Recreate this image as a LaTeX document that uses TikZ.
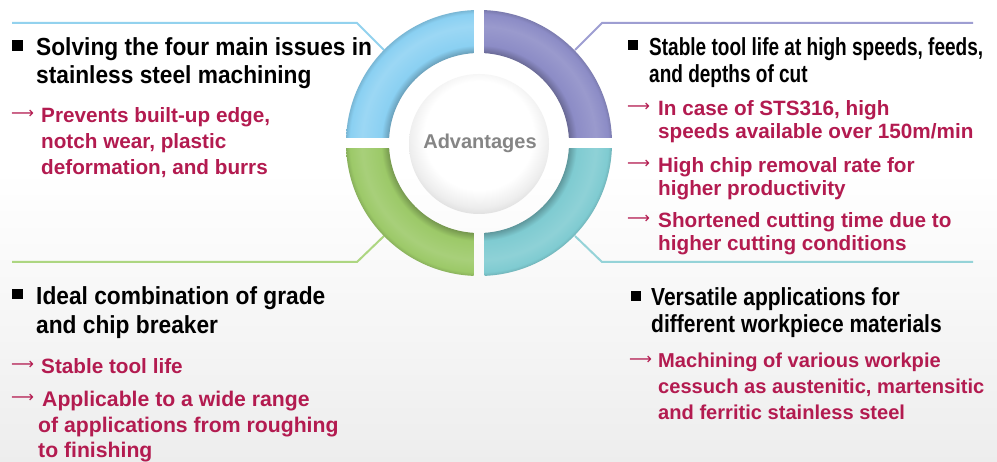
\documentclass[tikz,border=0pt]{standalone}
\usepackage{fontspec}
\setmainfont{Liberation Sans}
\newfontfamily\headfont{Liberation Sans}[FakeStretch=0.92]
\newfontfamily\headfontB{Liberation Sans}[FakeStretch=0.85]
\newfontfamily\headfontC{Liberation Sans}[FakeStretch=0.77]
\newfontfamily\arrowfont{DejaVu Sans}

\definecolor{ringblue}{HTML}{8AD0F2}
\definecolor{ringpurple}{HTML}{8C8CC6}
\definecolor{ringgreen}{HTML}{9CC968}
\definecolor{ringteal}{HTML}{7FCBD1}
\definecolor{lineblue}{HTML}{93D2EE}
\definecolor{linepurple}{HTML}{9E9ED2}
\definecolor{linegreen}{HTML}{ADD681}
\definecolor{lineteal}{HTML}{95D3D8}
\definecolor{pointred}{HTML}{B31B50}
\definecolor{centergray}{HTML}{858585}

% ring quadrants: dark inner rim, light middle, soft outer rim (25bp = outer radius)
\pgfdeclareradialshading{ringA}{\pgfpoint{0bp}{0bp}}{color(0bp)=(ringblue!75!black); color(16.9bp)=(ringblue!75!black); color(18.4bp)=(ringblue); color(22bp)=(ringblue!85!white); color(24.3bp)=(ringblue); color(25bp)=(ringblue!88!black); color(50bp)=(ringblue!88!black)}
\pgfdeclareradialshading{ringB}{\pgfpoint{0bp}{0bp}}{color(0bp)=(ringpurple!75!black); color(16.9bp)=(ringpurple!75!black); color(18.4bp)=(ringpurple); color(22bp)=(ringpurple!88!white); color(24.3bp)=(ringpurple); color(25bp)=(ringpurple!88!black); color(50bp)=(ringpurple!88!black)}
\pgfdeclareradialshading{ringC}{\pgfpoint{0bp}{0bp}}{color(0bp)=(ringgreen!75!black); color(16.9bp)=(ringgreen!75!black); color(18.4bp)=(ringgreen); color(22bp)=(ringgreen!88!white); color(24.3bp)=(ringgreen); color(25bp)=(ringgreen!88!black); color(50bp)=(ringgreen!88!black)}
\pgfdeclareradialshading{ringD}{\pgfpoint{0bp}{0bp}}{color(0bp)=(ringteal!75!black); color(16.9bp)=(ringteal!75!black); color(18.4bp)=(ringteal); color(22bp)=(ringteal!88!white); color(24.3bp)=(ringteal); color(25bp)=(ringteal!88!black); color(50bp)=(ringteal!88!black)}
\pgfdeclareradialshading{discshade}{\pgfpoint{0bp}{4bp}}{color(0bp)=(white); color(17bp)=(white); color(22bp)=(black!7); color(26bp)=(black!17); color(29bp)=(black!28); color(50bp)=(black!28)}

\tikzset{
  headA/.style={anchor=north west, inner sep=0pt, align=left, font=\headfont\bfseries\fontsize{24.7}{28.5}\selectfont},
  headB/.style={anchor=north west, inner sep=0pt, align=left, font=\headfontB\bfseries\fontsize{24.7}{27}\selectfont},
  headC/.style={anchor=north west, inner sep=0pt, align=left, font=\headfontC\bfseries\fontsize{24.7}{27.5}\selectfont},
  pointtext/.style={anchor=north west, inner sep=0pt, align=left, text=pointred, font=\bfseries\fontsize{20.7}{26}\selectfont},
  pointarrow/.style={anchor=base west, inner sep=0pt, text=pointred, font=\arrowfont\fontsize{16}{16}\selectfont},
  bulletbox/.style={fill=black, minimum size=10.5pt, inner sep=0pt},
  leader/.style={line width=2pt}
}

\begin{document}
\begin{tikzpicture}[x=1pt, y=-1pt]
\useasboundingbox (0,0) rectangle (997,462);
\fill[white] (0,0) rectangle (997,462);
\shade[top color=white, bottom color=black!7] (0,170) rectangle (997,462);

% leader lines
\coordinate (blueA) at (12,23);
\coordinate (blueB) at (357,23);
\coordinate (blueC) at (384,50);
\coordinate (purpleA) at (973,23);
\coordinate (purpleB) at (602,23);
\coordinate (purpleC) at (575,50);
\coordinate (greenA) at (12,262);
\coordinate (greenB) at (357,262);
\coordinate (greenC) at (384,236);
\coordinate (tealA) at (973,262);
\coordinate (tealB) at (602,262);
\coordinate (tealC) at (575,236);
\draw[leader, lineblue] (blueA) -- (blueB) -- (blueC);
\draw[leader, linepurple] (purpleA) -- (purpleB) -- (purpleC);
\draw[leader, linegreen] (greenA) -- (greenB) -- (greenC);
\draw[leader, lineteal] (tealA) -- (tealB) -- (tealC);

% ring
\begin{scope}
\clip (346,10) rectangle (473.5,137.5);
\shade[shading=ringA, even odd rule] (479,143) circle (133) (479,143) circle (90);
\end{scope}
\begin{scope}
\clip (484.5,10) rectangle (612,137.5);
\shade[shading=ringB, even odd rule] (479,143) circle (133) (479,143) circle (90);
\end{scope}
\begin{scope}
\clip (346,148.5) rectangle (473.5,276);
\shade[shading=ringC, even odd rule] (479,143) circle (133) (479,143) circle (90);
\end{scope}
\begin{scope}
\clip (484.5,148.5) rectangle (612,276);
\shade[shading=ringD, even odd rule] (479,143) circle (133) (479,143) circle (90);
\end{scope}
\begin{scope}
\clip (479,144) circle (70);
\shade[shading=discshade] (479,144) circle (80);
\end{scope}
\node[text=centergray, font=\bfseries\fontsize{20}{20}\selectfont] (adv) at (480,143) {Advantages};

% top left
\node[bulletbox] (tlBul) at (17.5,45.5) {};
\node[headA] (tlHead) at (36,37.3) {Solving the four main issues in\\stainless steel machining};
\node[pointarrow] (tlArr) at (11,119) {⟶};
\node[pointtext] (tlPt) at (41,107.2) {Prevents built-up edge,\\notch wear, plastic\\deformation, and burrs};

% top right
\node[bulletbox] (trBul) at (633,45) {};
\node[headC] (trHead) at (649,37.3) {Stable tool life at high speeds, feeds,\\and depths of cut};
\node[pointarrow] (trArrA) at (627,112) {⟶};
\node[pointtext, font=\bfseries\fontsize{20.7}{23}\selectfont] (trPtA) at (658,100.2) {In case of STS316, high\\speeds available over 150m/min};
\node[pointarrow] (trArrB) at (627,169) {⟶};
\node[pointtext, font=\bfseries\fontsize{20.7}{23}\selectfont] (trPtB) at (658,157.2) {High chip removal rate for\\higher productivity};
\node[pointarrow] (trArrC) at (627,224) {⟶};
\node[pointtext, font=\bfseries\fontsize{20.7}{23}\selectfont] (trPtC) at (658,212.2) {Shortened cutting time due to\\higher cutting conditions};

% bottom left
\node[bulletbox] (blBul) at (17.5,294) {};
\node[headA] (blHead) at (36,286.6) {Ideal combination of grade\\and chip breaker};
\node[pointarrow] (blArrA) at (11,370) {⟶};
\node[pointtext] (blPtA) at (41,358.2) {Stable tool life};
\node[pointarrow] (blArrB) at (11,403) {⟶};
\node[pointtext, font=\bfseries\fontsize{21.2}{25.5}\selectfont] (blPtB) at (38,391) {\hspace*{4pt}Applicable to a wide range\\of applications from roughing\\to finishing};

% bottom right
\node[bulletbox] (brBul) at (636,296) {};
\node[headB] (brHead) at (651,287.3) {Versatile applications for\\different workpiece materials};
\node[pointarrow] (brArr) at (629,365) {⟶};
\node[pointtext, font=\bfseries\fontsize{20.1}{26}\selectfont] (brPt) at (658,353.2) {Machining of various workpie\\cessuch as austenitic, martensitic\\and ferritic stainless steel};
\end{tikzpicture}
\end{document}
